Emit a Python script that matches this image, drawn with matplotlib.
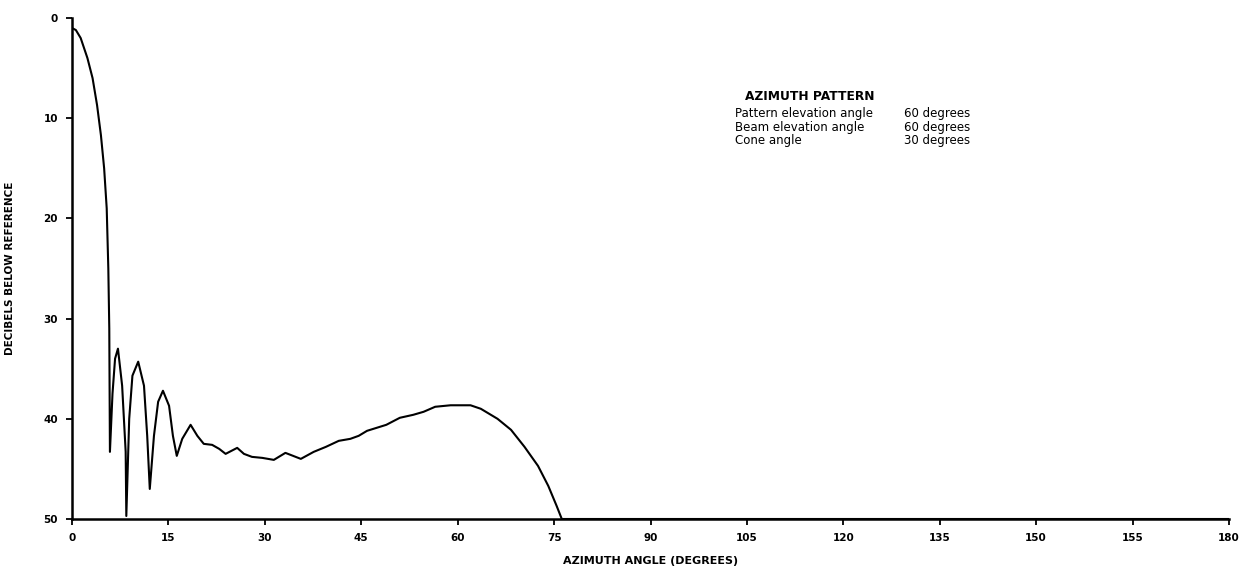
import numpy as np
import matplotlib.pyplot as plt

# Azimuth pattern (degrees, dB below reference)
angle = np.array([
    0.0, 0.6, 1.35, 2.4, 3.2, 3.9, 4.5, 5.0, 5.4, 5.65, 5.8, 5.9,
    6.3, 6.7, 7.15, 7.8, 8.35, 8.45, 8.9, 9.4, 10.3, 11.2, 11.7, 12.1,
    12.75, 13.4, 14.15, 15.1, 15.7, 16.3, 17.15, 18.45, 19.5, 20.5,
    21.8, 22.9, 23.9, 25.7, 26.75, 28.0, 29.6, 31.4, 33.2, 35.6, 37.6,
    39.5, 41.5, 43.3, 44.6, 45.9, 48.9, 51.0, 53.1, 54.7, 56.5, 58.9,
    62.0, 63.6, 66.2, 68.3, 70.4, 72.5, 74.1, 75.4, 76.2, 180.0,
])
db_below = np.array([
    1.0, 1.2, 2.0, 4.0, 6.0, 8.7, 11.7, 15.0, 19.0, 25.0, 31.0, 43.3,
    37.5, 34.0, 33.0, 36.7, 43.3, 49.7, 40.0, 35.7, 34.3, 36.7, 41.7, 47.0,
    41.7, 38.3, 37.2, 38.7, 41.7, 43.7, 42.0, 40.6, 41.7, 42.5,
    42.6, 43.0, 43.5, 42.9, 43.5, 43.8, 43.9, 44.1, 43.4, 44.0, 43.3,
    42.8, 42.2, 42.0, 41.7, 41.2, 40.6, 39.9, 39.6, 39.3, 38.8, 38.65,
    38.65, 39.0, 40.0, 41.1, 42.8, 44.7, 46.7, 48.7, 50.0, 50.0,
])

x_ticks = [0, 15, 30, 45, 60, 75, 90, 105, 120, 135, 150, 165, 180]
x_tick_labels = ["0", "15", "30", "45", "60", "75", "90", "105", "120",
                 "135", "150", "155", "180"]
y_ticks = [0, 10, 20, 30, 40, 50]

info_rows = [
    ("Pattern elevation angle", "60 degrees"),
    ("Beam elevation angle", "60 degrees"),
    ("Cone angle", "30 degrees"),
]

W, H = 1244, 577
fig = plt.figure(figsize=(W / 100, H / 100), dpi=100)
ax = fig.add_axes([72 / W, 1 - 519 / H, (1229 - 72) / W, (519 - 18) / H])

ax.plot(angle, db_below, color="black", lw=1.5, solid_joinstyle="round",
        solid_capstyle="round")

ax.set_xlim(0, 180)
ax.set_ylim(50, 0)
ax.set_xticks(x_ticks)
ax.set_xticklabels(x_tick_labels)
ax.set_yticks(y_ticks)

for side in ("top", "right"):
    ax.spines[side].set_visible(False)
for side in ("left", "bottom"):
    ax.spines[side].set_linewidth(1.8)

ax.tick_params(axis="both", direction="out", length=4, width=1.3,
               labelsize=7.5, pad=6)
for lbl in ax.get_xticklabels() + ax.get_yticklabels():
    lbl.set_fontweight("bold")

ax.set_xlabel("AZIMUTH ANGLE (DEGREES)", fontsize=8, fontweight="bold")
ax.xaxis.set_label_coords(0.5, -37 / 501)
ax.set_ylabel("DECIBELS BELOW REFERENCE", fontsize=7.5, fontweight="bold")
ax.yaxis.set_label_coords(-57 / 1157, 0.5)

# annotation block in the upper right
fig.text(745 / W, 1 - 97 / H, "AZIMUTH PATTERN", fontsize=8.8,
         fontweight="bold", va="center", ha="left")
for i, (name, val) in enumerate(info_rows):
    yy = 1 - (113 + 14 * i) / H
    fig.text(735 / W, yy, name, fontsize=8.5, va="center", ha="left")
    fig.text(904 / W, yy, val, fontsize=8.5, va="center", ha="left")

fig.savefig("out.png", dpi=100)
